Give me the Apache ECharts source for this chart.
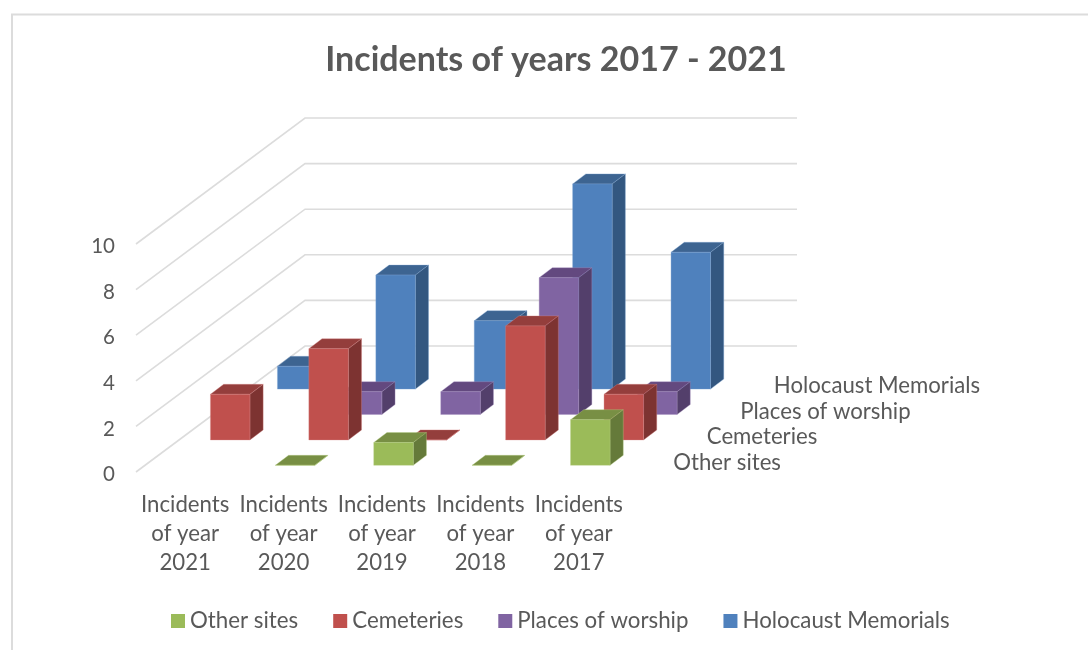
<!DOCTYPE html>
<html>
<head>
<meta charset="utf-8">
<style>html,body{margin:0;padding:0;background:#fff}#chart{width:1088px;height:650px}</style>
<script src="https://cdn.jsdelivr.net/npm/echarts@6/dist/echarts.min.js"></script>
</head>
<body>
<div id="chart"></div>
<script>
// Incident counts per year, one list per site type (null = no bar at all)
const categories = ['Incidents\nof year\n2021', 'Incidents\nof year\n2020', 'Incidents\nof year\n2019', 'Incidents\nof year\n2018', 'Incidents\nof year\n2017'];
const otherSites = [null, 0, 1, 0, 2];
const cemeteries = [2, 4, 0, 5, 2];
const placesOfWorship = [null, 1, 1, 6, 1];
const holocaustMemorials = [1, 5, 3, 9, 6];
const valueTicks = [0, 2, 4, 6, 8, 10];
const depthLabels = ['Other sites', 'Cemeteries', 'Places of worship', 'Holocaust Memorials'];

const FONT = 'Lato, "Open Sans", sans-serif';
const TEXT = '#595959';

// Oblique projection used for the depth axis, in pixels
const ROW_STEP = [33.5, -25.4];      // shift from one depth row to the next
const ROW_BASE = [11.5, -6.7];       // shift of the first row from the front plane
const BAR_DEPTH = [13.2, -10];       // visible depth of a bar
const BAR_WIDTH = 39.5;
const WALL_DEPTH = [169, -126];      // floor depth, front edge to back wall

const shades = {
  green:  {front: '#9BBB59', top: '#788F44', side: '#657A3A', edge: '#B4CC84'},
  red:    {front: '#C0504D', top: '#943E3C', side: '#7D3331', edge: '#D48583'},
  purple: {front: '#8064A2', top: '#63497F', side: '#533F6B', edge: '#A58FBF'},
  blue:   {front: '#4F81BD', top: '#3D6491', side: '#335780', edge: '#7FA5D3'}
};

// One depth row of 3D columns: front, top and side faces projected from the axes
function barRenderer(row, c) {
  return function (params, api) {
    const v = api.value(1);
    if (v == null || isNaN(v)) return null;
    const base = api.coord([api.value(0), 0]);
    const head = api.coord([api.value(0), v]);
    const dx = ROW_BASE[0] + row * ROW_STEP[0];
    const dy = ROW_BASE[1] + row * ROW_STEP[1];
    const l = base[0] + dx - BAR_WIDTH / 2, r = l + BAR_WIDTH;
    const b = base[1] + dy, t = head[1] + dy;
    const [ox, oy] = BAR_DEPTH;
    const face = (pts, fill) => ({
      type: 'polygon',
      shape: {points: pts},
      style: {fill: fill, stroke: c.edge, lineWidth: 0.8, strokeOpacity: 0.45}
    });
    return {
      type: 'group',
      children: [
        face([[l, t], [r, t], [r + ox, t + oy], [l + ox, t + oy]], c.top),
        face([[r, b], [r + ox, b + oy], [r + ox, t + oy], [r, t]], c.side),
        face([[l, b], [r, b], [r, t], [l, t]], c.front)
      ]
    };
  };
}

function barSeries(name, values, row, c) {
  return {
    name: name,
    type: 'custom',
    coordinateSystem: 'cartesian2d',
    itemStyle: {color: c.front},
    encode: {x: 0, y: 1},
    renderItem: barRenderer(row, c),
    data: values.map((v, i) => [i, v])
  };
}

const option = {
  animation: false,
  backgroundColor: '#fff',
  title: {
    text: 'Incidents of years 2017 - 2021',
    left: 551,
    top: 38,
    textAlign: 'center',
    textStyle: {fontFamily: FONT, fontSize: 34, fontWeight: 'bold', color: TEXT}
  },
  legend: {
    left: 166,
    top: 605,
    icon: 'rect',
    itemWidth: 14,
    itemHeight: 14,
    itemGap: 35,
    data: depthLabels,
    selectedMode: false,
    textStyle: {fontFamily: FONT, fontSize: 22.3, color: TEXT}
  },
  grid: {left: 136, top: 244, width: 492, height: 228, containLabel: false},
  xAxis: {
    type: 'category',
    data: categories,
    axisLine: {show: false},
    axisTick: {show: false},
    axisLabel: {margin: 19, fontFamily: FONT, fontSize: 22.2, lineHeight: 28.6, color: TEXT, interval: 0}
  },
  yAxis: {
    type: 'value',
    min: 0,
    max: 10,
    interval: 2,
    axisLine: {show: false},
    axisTick: {show: false},
    splitLine: {show: false},
    axisLabel: {margin: 21, verticalAlign: 'top', lineHeight: 5, fontFamily: FONT, fontSize: 20.5, color: TEXT}
  },
  graphic: [{
    // Chart frame, open on the right and at the bottom
    type: 'polyline',
    silent: true,
    shape: {points: [[12, 650], [12, 14.5], [1088, 14.5]]},
    style: {stroke: '#dcdcdc', lineWidth: 2, fill: 'none'}
  }],
  series: [
    {
      // Gridlines running along the side wall and the back wall
      type: 'custom',
      silent: true,
      encode: {y: 0},
      data: valueTicks.map(v => [v]),
      renderItem: function (params, api) {
        const v = api.value(0);
        const half = api.size([1, 0])[0] / 2;
        const first = api.coord([0, v]);
        const last = api.coord([categories.length - 1, v]);
        const x0 = first[0] - half, y0 = first[1];
        return {
          type: 'polyline',
          shape: {points: [
            [x0, y0],
            [x0 + WALL_DEPTH[0], y0 + WALL_DEPTH[1]],
            [last[0] + half + WALL_DEPTH[0], y0 + WALL_DEPTH[1]]
          ]},
          style: {stroke: '#dcdcdc', lineWidth: 1.6, fill: 'none'}
        };
      }
    },
    // Back rows are listed first so nearer rows paint over them
    barSeries(depthLabels[3], holocaustMemorials, 3, shades.blue),
    barSeries(depthLabels[2], placesOfWorship, 2, shades.purple),
    barSeries(depthLabels[1], cemeteries, 1, shades.red),
    barSeries(depthLabels[0], otherSites, 0, shades.green),
    {
      // Depth axis labels, stepping back with the rows
      type: 'custom',
      silent: true,
      data: depthLabels.map((d, i) => [i]),
      encode: {x: 0},
      renderItem: function (params, api) {
        const i = api.value(0);
        const base = api.coord([categories.length - 1, 0]);
        return {
          type: 'text',
          style: {
            text: depthLabels[i],
            x: base[0] + 94.5 + i * ROW_STEP[0],
            y: base[1] - 9.5 + i * ROW_STEP[1],
            align: 'left',
            verticalAlign: 'middle',
            fontFamily: FONT,
            fontSize: 22.2,
            fill: TEXT
          }
        };
      }
    }
  ]
};

echarts.init(document.getElementById('chart'), null, {renderer: 'canvas'}).setOption(option);
</script>
</body>
</html>
